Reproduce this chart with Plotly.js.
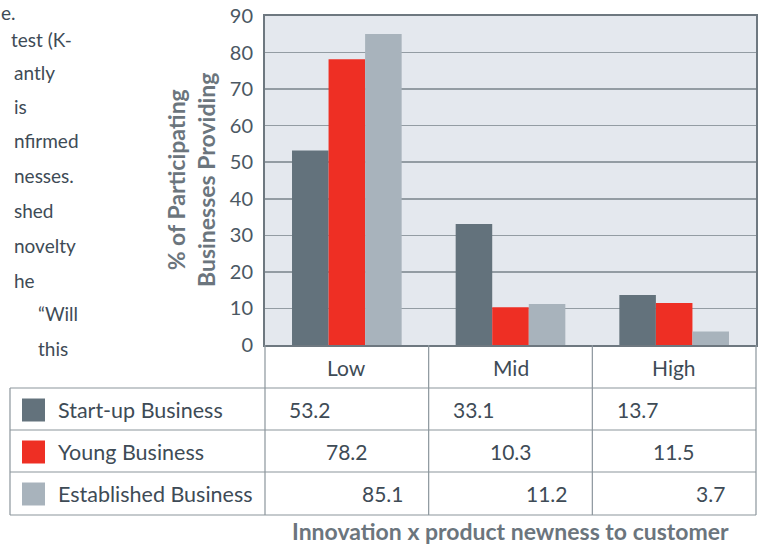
<!DOCTYPE html>
<html>
<head>
<meta charset="utf-8">
<script src="https://cdn.plot.ly/plotly-3.0.1.min.js"></script>
<style>html,body{margin:0;padding:0;background:#fff;}#chart{width:758px;height:546px;}</style>
</head>
<body>
<div id="chart"></div>
<script>
// ---- data ----
const categories = ['Low', 'Mid', 'High'];
const seriesNames = ['Start-up Business', 'Young Business', 'Established Business'];
const startUp = [53.2, 33.1, 13.7];
const young = [78.2, 10.3, 11.5];
const established = [85.1, 11.2, 3.7];
const yTickVals = [0, 10, 20, 30, 40, 50, 60, 70, 80, 90];
const yTitleLines = ['% of Participating', 'Businesses Providing'];
const xTitle = 'Innovation x product newness to customer';
const sideText = ['e.', 'test (K-', 'antly', 'is', 'nfirmed', 'nesses.', 'shed', 'novelty', 'he', '\u201CWill', 'this'];

// ---- layout helpers ----
const W = 758, H = 546, L = 265, R = 756, T = 16, B = 345;
const xp = px => (px - L) / (R - L);
const yp = py => (B - py) / (B - T);
const colors = ['#63727c', '#ee2f24', '#a8b3bc'];
const textColor = '#3e4b56';
const lineColor = '#8b959c';
const FONT = 'Lato, "Open Sans", sans-serif';
const bargap = 0.33;

const seriesValues = [startUp, young, established];
const traces = seriesValues.map((vals, i) => ({
  type: 'bar', x: categories, y: vals, name: seriesNames[i],
  marker: {color: colors[i], line: {width: 0}}, hoverinfo: 'x+y+name'
}));

const shapes = [];
const annotations = [];

// table lines
const rowLines = [388, 430, 472, 515];
rowLines.forEach(py => shapes.push({type: 'line', xref: 'paper', yref: 'paper',
  x0: xp(10), x1: xp(R), y0: yp(py), y1: yp(py), line: {color: lineColor, width: 1.2}}));
shapes.push({type: 'line', xref: 'paper', yref: 'paper', x0: xp(10), x1: xp(10), y0: yp(388), y1: yp(515), line: {color: lineColor, width: 1.2}});
for (let c = 0; c <= categories.length; c++) {
  const x = c / categories.length;
  shapes.push({type: 'line', xref: 'paper', yref: 'paper', x0: x, x1: x, y0: 0, y1: yp(515), line: {color: lineColor, width: 1.2}});
}

// category labels
categories.forEach((c, i) => annotations.push({xref: 'x', yref: 'paper', x: i, y: yp(367),
  text: c, showarrow: false, font: {family: FONT, size: 21, color: textColor}, xanchor: 'center', yanchor: 'middle'}));

// rows
const rowCenters = [410, 452, 494];
const barW = (1 - bargap) / seriesNames.length;
seriesNames.forEach((name, s) => {
  shapes.push({type: 'rect', xref: 'paper', yref: 'paper', x0: xp(22), x1: xp(45),
    y0: yp(rowCenters[s] - 11.5), y1: yp(rowCenters[s] + 11.5), fillcolor: colors[s], line: {width: 0}});
  annotations.push({xref: 'paper', yref: 'paper', x: xp(56), y: yp(rowCenters[s]), text: name,
    showarrow: false, xanchor: 'left', yanchor: 'middle', font: {family: FONT, size: 21.5, color: textColor}});
  seriesValues[s].forEach((v, c) => {
    annotations.push({xref: 'x', yref: 'paper', x: c + (s - 1) * barW, y: yp(rowCenters[s] - 1),
      text: v.toFixed(1), showarrow: false, xanchor: 'center', yanchor: 'middle',
      font: {family: FONT, size: 21, color: textColor}});
  });
});

// y title
annotations.push({xref: 'paper', yref: 'paper', x: xp(191), y: yp(180), textangle: -90,
  text: '<b>' + yTitleLines.join('<br>') + '</b>', showarrow: false, xanchor: 'center', yanchor: 'middle',
  font: {family: FONT, size: 23, color: '#6b757d'}});
// x title
annotations.push({xref: 'paper', yref: 'paper', x: xp(510), y: yp(531), text: '<b>' + xTitle + '</b>',
  showarrow: false, xanchor: 'center', yanchor: 'middle', borderpad: 0, font: {family: FONT, size: 23, color: '#6b757d'}});

// side paragraph fragments
const sidePos = [[0, 13], [10, 39], [13, 72], [13, 106], [13, 140], [13, 175], [13, 210], [13, 245], [13, 280], [37, 313], [37, 349]];
sideText.forEach((t, i) => annotations.push({xref: 'paper', yref: 'paper', x: xp(sidePos[i][0]), y: yp(sidePos[i][1]),
  text: t, showarrow: false, xanchor: 'left', yanchor: 'middle', borderpad: 0, font: {family: FONT, size: 19, color: textColor}}));

const layout = {
  width: W, height: H,
  margin: {l: L, r: W - R, t: T, b: H - B, pad: 0},
  paper_bgcolor: '#ffffff', plot_bgcolor: '#e4e8ee',
  barmode: 'group', bargap: bargap, bargroupgap: 0,
  showlegend: false,
  xaxis: {type: 'category', showticklabels: false, ticks: '', showgrid: false,
    showline: true, linecolor: '#6e7880', linewidth: 2, mirror: true, fixedrange: true},
  yaxis: {range: [0, 90], tickvals: yTickVals, ticks: '', showgrid: true, gridcolor: '#939ca3', gridwidth: 1.5,
    zeroline: false, showline: true, linecolor: '#6e7880', linewidth: 2, mirror: true,
    tickfont: {family: FONT, size: 20, color: '#4b5863'}, ticklabelstandoff: 6, fixedrange: true},
  shapes: shapes, annotations: annotations
};

Plotly.newPlot('chart', traces, layout, {displayModeBar: false, staticPlot: true});
</script>
</body>
</html>
